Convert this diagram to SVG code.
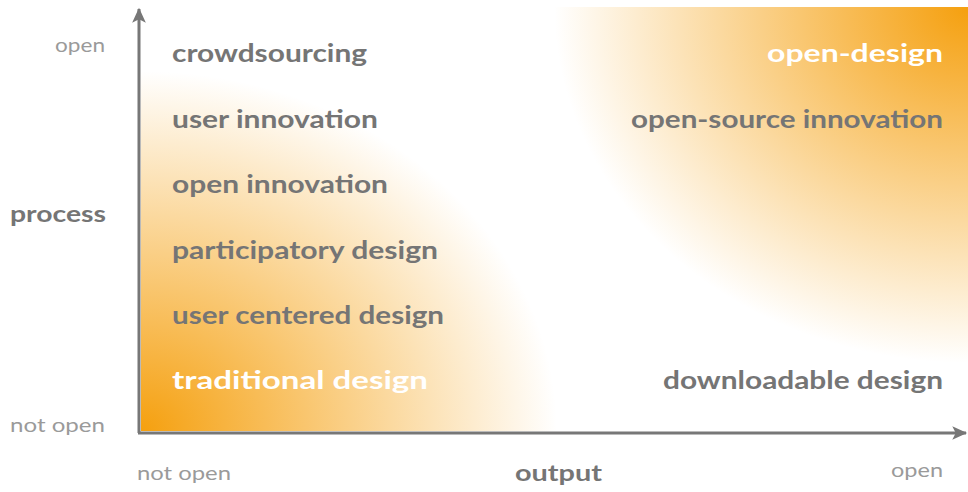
<svg xmlns="http://www.w3.org/2000/svg" width="968" height="492" viewBox="0 0 968 492">
<defs>
<radialGradient id="gBL" gradientUnits="userSpaceOnUse" cx="0" cy="0" r="1" gradientTransform="translate(141 431) scale(416 360)">
<stop offset="0" stop-color="#f5a00f" stop-opacity="1"/>
<stop offset="1" stop-color="#f5a00f" stop-opacity="0"/>
</radialGradient>
<radialGradient id="gTR" gradientUnits="userSpaceOnUse" cx="0" cy="0" r="1" gradientTransform="translate(968 7) scale(414 356)">
<stop offset="0" stop-color="#f5a00f" stop-opacity="1"/>
<stop offset="1" stop-color="#f5a00f" stop-opacity="0"/>
</radialGradient>
<marker id="arr" markerUnits="userSpaceOnUse" markerWidth="16" markerHeight="16" refX="12" refY="6" orient="auto" viewBox="0 0 14 12">
<path d="M0,0 L13,6 L0,12 L3,6 Z" fill="#777"/>
</marker>
<style>
.it{font-family:Lato,"Noto Sans",sans-serif;font-weight:bold;font-size:25px;fill:#757575}
.wh{fill:#ffffff}
.lb{font-family:Lato,"Noto Sans",sans-serif;font-size:20px;fill:#9a9a9a}
.ax{font-family:Lato,"Noto Sans",sans-serif;font-weight:bold;font-size:23px;fill:#757575}
</style>
</defs>
<rect x="141" y="0" width="430" height="431" fill="url(#gBL)"/>
<rect x="540" y="7" width="428" height="380" fill="url(#gTR)"/>
<g id="connectors">
<line x1="139" y1="433" x2="139" y2="9" stroke="#777" stroke-width="3" marker-end="url(#arr)"/>
<line x1="138" y1="433" x2="966" y2="433" stroke="#777" stroke-width="3" marker-end="url(#arr)"/>
</g>
<g id="labels">
<text class="lb" x="105" y="52" text-anchor="end" textLength="50" lengthAdjust="spacingAndGlyphs">open</text>
<text class="lb" x="105" y="432" text-anchor="end" textLength="95" lengthAdjust="spacingAndGlyphs">not open</text>
<text class="ax" x="10" y="222" textLength="96" lengthAdjust="spacingAndGlyphs">process</text>
<text class="lb" x="137" y="480" textLength="94" lengthAdjust="spacingAndGlyphs">not open</text>
<text class="ax" x="515" y="481" textLength="87" lengthAdjust="spacingAndGlyphs">output</text>
<text class="lb" x="943" y="477" text-anchor="end" textLength="52" lengthAdjust="spacingAndGlyphs">open</text>
</g>
<g id="crowdsourcing"><text class="it" x="172" y="62" textLength="195" lengthAdjust="spacingAndGlyphs">crowdsourcing</text></g>
<g id="user-innovation"><text class="it" x="172" y="128" textLength="206" lengthAdjust="spacingAndGlyphs">user innovation</text></g>
<g id="open-innovation"><text class="it" x="172" y="193" textLength="216" lengthAdjust="spacingAndGlyphs">open innovation</text></g>
<g id="participatory-design"><text class="it" x="172" y="259" textLength="266" lengthAdjust="spacingAndGlyphs">participatory design</text></g>
<g id="user-centered-design"><text class="it" x="172" y="324" textLength="272" lengthAdjust="spacingAndGlyphs">user centered design</text></g>
<g id="traditional-design"><text class="it wh" x="172" y="389" textLength="256" lengthAdjust="spacingAndGlyphs">traditional design</text></g>
<g id="open-design"><text class="it wh" x="943" y="62" text-anchor="end" textLength="176" lengthAdjust="spacingAndGlyphs">open-design</text></g>
<g id="open-source-innovation"><text class="it" x="943" y="128" text-anchor="end" textLength="312" lengthAdjust="spacingAndGlyphs">open-source innovation</text></g>
<g id="downloadable-design"><text class="it" x="943" y="389" text-anchor="end" textLength="280" lengthAdjust="spacingAndGlyphs">downloadable design</text></g>
</svg>
